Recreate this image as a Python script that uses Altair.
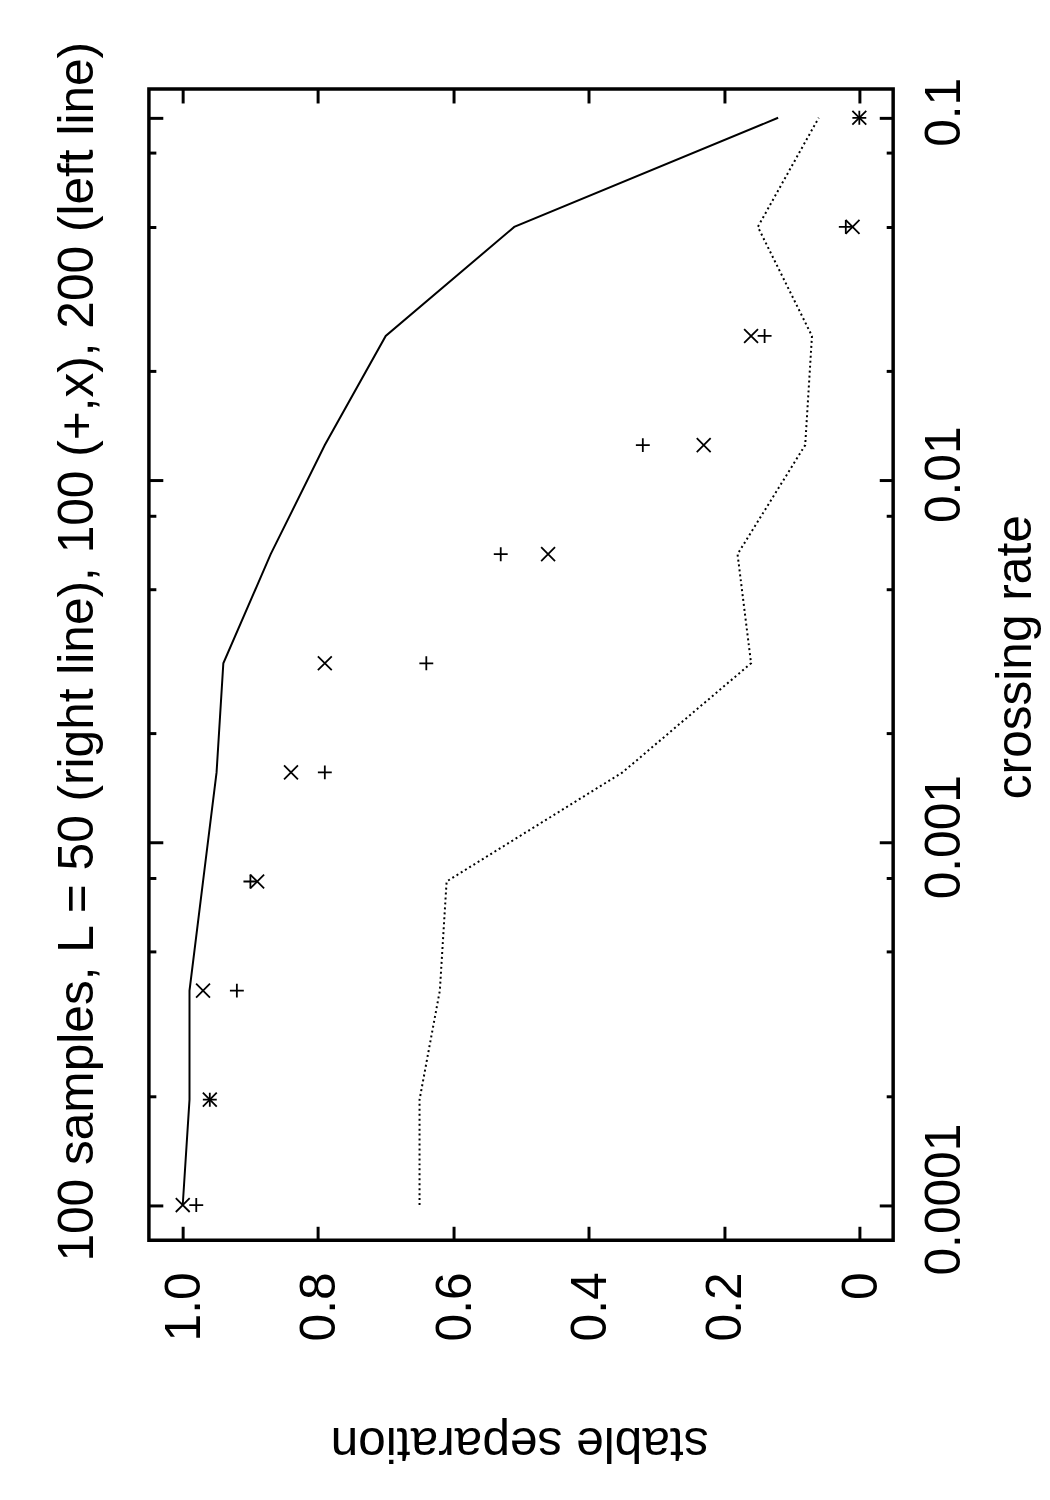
import pandas as pd
import altair as alt

# crossing rate, halved from 0.1 down, last point at 1e-4
rates = [0.1, 0.05, 0.025, 0.0125, 0.00625, 0.003125, 0.0015625,
         0.00078125, 0.000390625, 0.0001953125, 0.0001]

# L = 50 (right line, solid)
sep_L50 = [0.12, 0.51, 0.70, 0.79, 0.87, 0.94, 0.95, 0.97, 0.99, 0.99, 1.0]
# L = 200 (left line, dotted)
sep_L200 = [0.06, 0.15, 0.07, 0.08, 0.18, 0.16, 0.35, 0.61, 0.62, 0.65, 0.65]
# L = 100, the two point sets
sep_plus = [0.0, 0.02, 0.14, 0.32, 0.53, 0.64, 0.79, 0.90, 0.92, 0.96, 0.98]
sep_cross = [0.0, 0.01, 0.16, 0.23, 0.46, 0.79, 0.84, 0.89, 0.97, 0.96, 1.0]

sep_ticks = [0, 0.2, 0.4, 0.6, 0.8, 1.0]
rate_ticks = [0.0001, 0.001, 0.01, 0.1]
rate_minor = [0.0002, 0.0005, 0.0008, 0.002, 0.005, 0.008, 0.02, 0.05, 0.08]

title_text = '100 samples, L = 50 (right line), 100 (+,x), 200 (left line)'

df = pd.DataFrame({'rate': rates, 'L50': sep_L50, 'L200': sep_L200,
                   'plus': sep_plus, 'cross': sep_cross})

FONT = 'Liberation Sans'
PLUS = 'M-1,0L1,0M0,-1L0,1'
CROSS = 'M-1,-1L1,1M-1,1L1,-1'

xscale = alt.Scale(domain=[-0.05, 1.05], reverse=True, nice=False, zero=False)
yscale = alt.Scale(type='log', domain=[0.00008, 0.12], nice=False)

# gnuplot style: ticks point inward, so every axis is pulled into the frame
tick_style = dict(domain=False, grid=False, tickColor='black', tickWidth=3)

x_bottom = alt.Axis(orient='bottom', values=sep_ticks, offset=-14, tickSize=14,
                    labelExpr="datum.value == 0 ? '0' : format(datum.value, '.1f')",
                    labelAngle=270, labelAlign='right', labelBaseline='middle',
                    labelPadding=32, labelOffset=2, labelFlush=False, labelOverlap=False,
                    labelFont=FONT, labelFontSize=50, labelColor='black',
                    title='stable separation', titleFont=FONT, titleFontSize=50,
                    titleFontWeight='normal', titleColor='black', titleAngle=180,
                    titleAlign='center', titleBaseline='alphabetic',
                    titleX=373, titleY=203, **tick_style)
x_top = alt.Axis(orient='top', values=sep_ticks, offset=-14, tickSize=14,
                 labels=False, title=None, **tick_style)

y_right = alt.Axis(orient='right', values=rate_ticks, offset=-14, tickSize=14,
                   labelExpr="format(datum.value, '~g')",
                   labelAngle=270, labelAlign='center', labelBaseline='top',
                   labelPadding=27, labelOffset=-6, labelFlush=False, labelOverlap=False,
                   labelFont=FONT, labelFontSize=50, labelColor='black',
                   title='crossing rate', titleFont=FONT, titleFontSize=50,
                   titleFontWeight='normal', titleColor='black', titleAngle=270,
                   titleAlign='center', titleBaseline='alphabetic',
                   titleX=152, titleY=572, **tick_style)
y_right_minor = alt.Axis(orient='right', values=rate_minor, offset=-7, tickSize=7,
                         labels=False, title=None, **tick_style)
y_left = alt.Axis(orient='left', values=rate_ticks, offset=-14, tickSize=14,
                  labels=False, title=None, **tick_style)
y_left_minor = alt.Axis(orient='left', values=rate_minor, offset=-7, tickSize=7,
                        labels=False, title=None, **tick_style)

base = alt.Chart(df)

solid = base.mark_line(color='black', strokeWidth=2).encode(
    x=alt.X('L50:Q', scale=xscale, axis=x_bottom),
    y=alt.Y('rate:Q', scale=yscale, axis=y_right),
    order=alt.Order('rate:Q'),
)

dotted = base.mark_line(color='black', strokeWidth=2, strokeDash=[2, 3]).encode(
    x=alt.X('L200:Q', scale=xscale, axis=x_top),
    y=alt.Y('rate:Q', scale=yscale, axis=y_right_minor),
    order=alt.Order('rate:Q'),
)

plus = base.mark_point(shape=PLUS, size=196, filled=False, stroke='black',
                       strokeWidth=1.8, opacity=1).encode(
    x=alt.X('plus:Q', scale=xscale, axis=None),
    y=alt.Y('rate:Q', scale=yscale, axis=y_left),
)

cross = base.mark_point(shape=CROSS, size=196, filled=False, stroke='black',
                        strokeWidth=1.8, opacity=1).encode(
    x=alt.X('cross:Q', scale=xscale, axis=None),
    y=alt.Y('rate:Q', scale=yscale, axis=y_left_minor),
)

chart = alt.layer(solid, dotted, plus, cross).resolve_axis(
    x='independent', y='independent'
).properties(
    width=750,
    height=1160,
    padding={'left': 142, 'top': 76, 'right': 150, 'bottom': 240},
    autosize=alt.AutoSizeParams(type='none'),
    background='white',
    title=alt.TitleParams(text=title_text, orient='left', anchor='middle',
                          font=FONT, fontSize=50, fontWeight='normal',
                          color='black', offset=45, dx=13),
).configure_view(stroke='black', strokeWidth=3.5)

chart.save('out.html', embed_options={'renderer': 'svg', 'actions': False})
